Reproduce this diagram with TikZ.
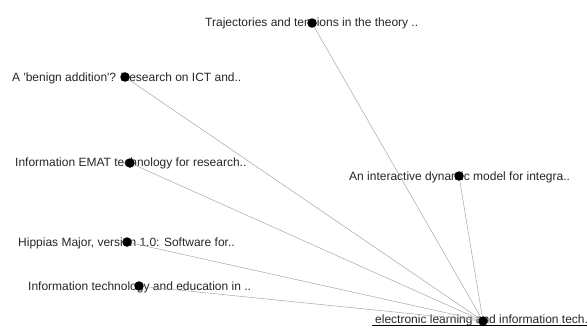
\documentclass[tikz,border=0pt]{standalone}
\usepackage{fontspec}
\setmainfont{Liberation Sans}
\usetikzlibrary{calc}

\begin{document}
\begin{tikzpicture}[x=1pt,y=-1pt,
		dot/.style={circle, fill=black, inner sep=0pt, minimum size=9.5pt},
		lbl/.style={anchor=base west, inner sep=0pt, text=black!85, font=\fontsize{12}{14}\selectfont},
		edge/.style={draw=black!35, line width=0.5pt}
	]
	\useasboundingbox (0,0) rectangle (587,327);

	\node[lbl] (l1) at (205,26) {Trajectories and tensions in the theory ..};
	\node[lbl] (l2) at (12,81) {A \textquotesingle benign addition\textquotesingle? Research on ICT and..};
	\node[lbl] (l3) at (15,166) {Information EMAT technology for research..};
	\node[lbl] (l4) at (349,180) {An interactive dynamic model for integra..};
	\node[lbl] (l5) at (18,246) {Hippias Major, version 1.0: Software for..};
	\node[lbl] (l6) at (28,290) {Information technology and education in ..};
	\node[lbl] (lc) at (375,323.5) {electronic learning and information tech.};
	\draw[black, line width=0.8pt] ($(lc.base west)+(-3,2)$) -- ($(lc.base east)+(2,2)$);

	\node[dot] (t1) at (312,23) {};
	\node[dot] (t2) at (125,77) {};
	\node[dot] (t3) at (130,163) {};
	\node[dot] (t4) at (459,176) {};
	\node[dot] (t5) at (127,242) {};
	\node[dot] (t6) at (139,286) {};
	\node[dot] (c) at (483,321) {};

	\foreach \n in {t1,t2,t3,t4,t5,t6}
		\draw[edge] (\n) -- (c);

\end{tikzpicture}
\end{document}
